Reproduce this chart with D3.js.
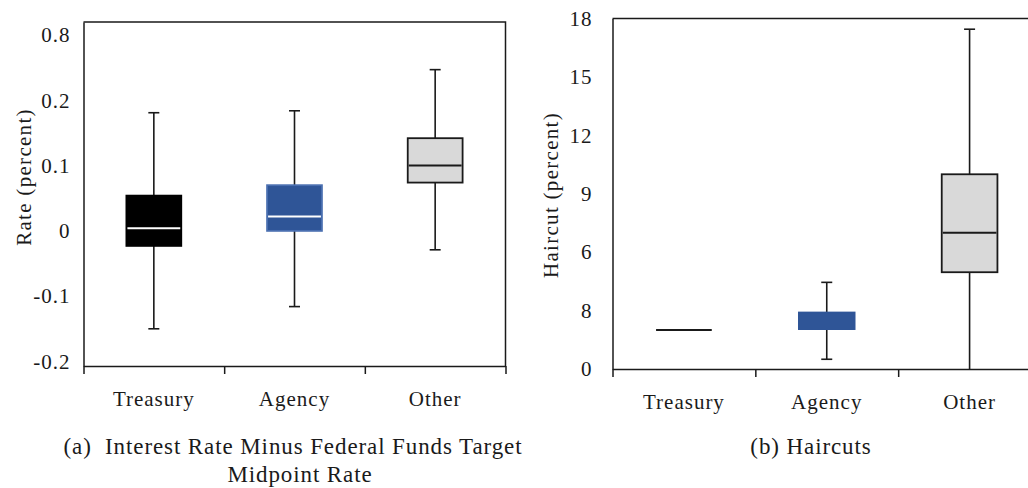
<!DOCTYPE html>
<html>
<head>
<meta charset="utf-8">
<script src="https://cdn.jsdelivr.net/npm/d3@7"></script>
<style>
  body { margin: 0; background: #fff; }
</style>
</head>
<body>
<svg id="chart" width="1028" height="488"></svg>
<script>
var FONT = "'Liberation Serif'";

// categories + colours
var categories = ["Treasury", "Agency", "Other"];
var boxFill = ["#000000", "#2f5597", "#d9d9d9"];

// (a) rate minus fed funds target midpoint, percent
var rateMin    = [-0.150, -0.116, -0.029];
var rateQ1     = [-0.023,  0.000,  0.074];
var rateMedian = [ 0.004,  0.022,  0.100];
var rateQ3     = [ 0.054,  0.070,  0.142];
var rateMax    = [ 0.181,  0.184,  0.247];
var rateTicks  = [-0.2, -0.1, 0, 0.1, 0.2, 0.3];
var rateTickLabels = ["-0.2", "-0.1", "0", "0.1", "0.2", "0.8"];

// (b) haircuts, percent
var haircutMin    = [2, 0.5, 0];
var haircutQ1     = [2, 2.05, 4.97];
var haircutMedian = [2, 2.05, 7.0];
var haircutQ3     = [2, 2.9, 10.0];
var haircutMax    = [2, 4.45, 17.45];
var haircutTicks  = [0, 3, 6, 9, 12, 15, 18];
var haircutTickLabels = ["0", "8", "6", "9", "12", "15", "18"];

var svg = d3.select("#chart");

// the original font is wider than Times -> a little letter spacing
function serif(sel, size, spacing) {
  sel.attr("font-family", null)
    .style("font-family", FONT)
    .style("font-size", size + "px")
    .style("letter-spacing", spacing + "px")
    .style("fill", "#1a1a1a");
}

function panel(cfg) {
  var x = d3.scaleBand().domain(categories).range([cfg.left, cfg.right]);
  var y = d3.scaleLinear().domain(cfg.domain).range([cfg.bottom, cfg.top]);
  var g = svg.append("g");
  var bw = x.bandwidth() * 0.39;

  // frame (top + right)
  g.append("path")
    .attr("d", "M" + cfg.left + "," + cfg.top + "H" + cfg.right + "V" + cfg.bottom)
    .attr("fill", "none").attr("stroke", "#1a1a1a").attr("stroke-width", 1.5);

  // y axis
  var ya = g.append("g").attr("transform", "translate(" + cfg.left + ",0)")
    .call(d3.axisLeft(y).tickValues(cfg.ticks)
      .tickFormat(function(d, i) { return cfg.tickLabels[i]; })
      .tickSize(0).tickPadding(cfg.tickPad));
  ya.attr("font-family", null).attr("font-size", null);
  ya.select(".domain").attr("stroke", "#1a1a1a").attr("stroke-width", 1.5);
  ya.selectAll("text").call(serif, 21, 1);

  // x axis: ticks on band edges, labels in the middle
  var edges = d3.scalePoint().domain([0, 1, 2, 3]).range([cfg.left, cfg.right]);
  var xe = g.append("g").attr("transform", "translate(0," + cfg.bottom + ")")
    .call(d3.axisBottom(edges).tickSize(8).tickSizeOuter(0).tickFormat(""));
  xe.select(".domain").attr("stroke", "#1a1a1a").attr("stroke-width", 1.5);
  xe.selectAll(".tick line").attr("stroke", "#1a1a1a").attr("stroke-width", 1.5);

  var xl = g.append("g").attr("transform", "translate(0," + cfg.bottom + ")")
    .call(d3.axisBottom(x).tickSize(0).tickPadding(cfg.labelPad));
  xl.attr("font-family", null).attr("font-size", null);
  xl.select(".domain").remove();
  xl.selectAll("text").call(serif, 21, 1);

  // boxes
  var rows = categories.map(function(c, i) {
    return { cat: c, i: i, min: cfg.min[i], q1: cfg.q1[i], med: cfg.med[i], q3: cfg.q3[i], max: cfg.max[i] };
  });
  var b = g.selectAll(".box").data(rows).enter().append("g").attr("class", "box");
  var cx = function(d) { return x(d.cat) + x.bandwidth() / 2; };

  b.append("line")
    .attr("x1", cx).attr("x2", cx)
    .attr("y1", function(d) { return y(d.min); })
    .attr("y2", function(d) { return y(d.max); })
    .attr("stroke", "#1a1a1a").attr("stroke-width", 1.6);

  // caps
  ["min", "max"].forEach(function(k) {
    b.filter(function(d) { return d.max > d.min && (k != "min" || d.min > cfg.domain[0]); })
      .append("line")
      .attr("x1", function(d) { return cx(d) - 5.5; })
      .attr("x2", function(d) { return cx(d) + 5.5; })
      .attr("y1", function(d) { return y(d[k]); })
      .attr("y2", function(d) { return y(d[k]); })
      .attr("stroke", "#1a1a1a").attr("stroke-width", 1.6);
  });

  b.filter(function(d) { return d.q3 > d.q1; }).append("rect")
    .attr("x", function(d) { return cx(d) - bw / 2; })
    .attr("width", bw)
    .attr("y", function(d) { return y(d.q3); })
    .attr("height", function(d) { return y(d.q1) - y(d.q3); })
    .attr("fill", function(d) { return boxFill[d.i]; })
    .attr("stroke", function(d) { return cfg.boxStroke[d.i]; })
    .attr("stroke-width", 1.8);

  b.append("line")
    .attr("x1", function(d) { return cx(d) - bw / 2 + (d.q3 > d.q1 ? 1 : 0); })
    .attr("x2", function(d) { return cx(d) + bw / 2 - (d.q3 > d.q1 ? 1 : 0); })
    .attr("y1", function(d) { return y(d.med); })
    .attr("y2", function(d) { return y(d.med); })
    .attr("stroke", function(d) { return cfg.medColor[d.i]; })
    .attr("stroke-width", 2);

  // y label
  g.append("text")
    .attr("transform", "translate(" + cfg.ylabelX + "," + cfg.ylabelY + ") rotate(-90)")
    .attr("text-anchor", "middle")
    .text(cfg.ylabel)
    .call(serif, 21, 1.3);
}

panel({
  left: 83.5, right: 505.5, top: 22, bottom: 366,
  domain: [-0.207, 0.32],
  ticks: rateTicks, tickLabels: rateTickLabels, tickPad: 13, labelPad: 25,
  min: rateMin, q1: rateQ1, med: rateMedian, q3: rateQ3, max: rateMax,
  boxStroke: ["#000000", "#4a6fb0", "#1a1a1a"],
  medColor: ["#ffffff", "#ffffff", "#1a1a1a"],
  ylabel: "Rate (percent)", ylabelX: 31, ylabelY: 177
});

panel({
  left: 612.5, right: 1041, top: 18.5, bottom: 369,
  domain: [0, 18],
  ticks: haircutTicks, tickLabels: haircutTickLabels, tickPad: 20, labelPad: 25,
  min: haircutMin, q1: haircutQ1, med: haircutMedian, q3: haircutQ3, max: haircutMax,
  boxStroke: ["#000000", "#2f5597", "#1a1a1a"],
  medColor: ["#1a1a1a", "#2f5597", "#1a1a1a"],
  ylabel: "Haircut (percent)", ylabelX: 558, ylabelY: 195
});

// captions
var caps = svg.append("g");
caps.append("text").attr("x", 293).attr("y", 454).attr("text-anchor", "middle")
  .text("(a)\u00a0 Interest Rate Minus Federal Funds Target").call(serif, 23, 0.9);
caps.append("text").attr("x", 300).attr("y", 482).attr("text-anchor", "middle")
  .text("Midpoint Rate").call(serif, 23, 0.9);
caps.append("text").attr("x", 811).attr("y", 454).attr("text-anchor", "middle")
  .text("(b) Haircuts").call(serif, 23, 0.9);
</script>
</body>
</html>
